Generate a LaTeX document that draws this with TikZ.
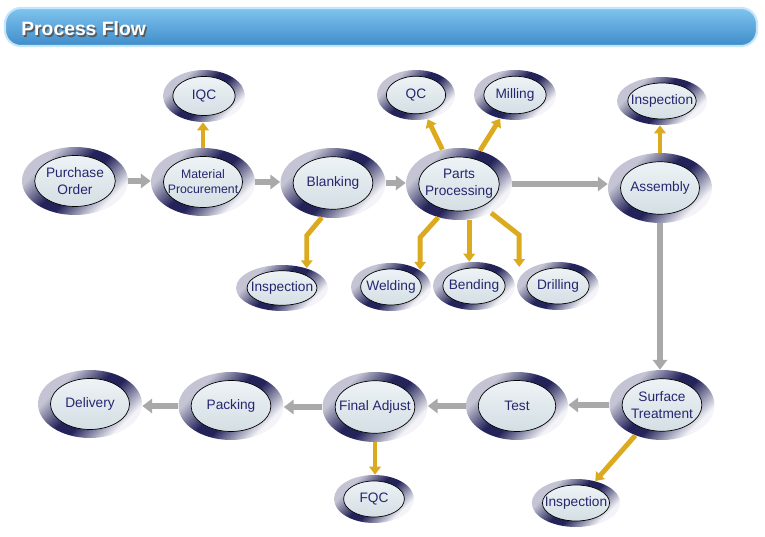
\documentclass[tikz,border=0pt]{standalone}
\usepackage{fontspec}
\setmainfont{Liberation Sans}
\usetikzlibrary{shapes.geometric,arrows.meta,calc}

\definecolor{ink}{HTML}{262670}
\definecolor{navy}{HTML}{23235A}
\definecolor{silver}{HTML}{F4F4F8}
\definecolor{haze}{HTML}{C4C4D4}
\definecolor{pale}{HTML}{F2F6F8}
\definecolor{mist}{HTML}{CFDBE1}
\definecolor{flowgray}{HTML}{A9A9A9}
\definecolor{gold}{HTML}{DCAA1E}
\definecolor{barhi}{HTML}{7FC4EE}
\definecolor{barlo}{HTML}{3F8CCA}
\definecolor{barrim}{HTML}{C4E6FA}

\pgfdeclarehorizontalshading{ring}{100bp}{color(0bp)=(haze); color(30bp)=(haze);
  color(46bp)=(navy); color(54bp)=(navy); color(72bp)=(silver); color(100bp)=(silver)}

\begin{document}
\begin{tikzpicture}[x=0.02cm, y=-0.02cm,
  dims/.style 2 args={minimum width=#1*0.02cm, minimum height=#2*0.02cm},
  stage/.style={shape=ellipse, inner sep=0pt, align=center, text=ink,
    font=\fontsize{7.8}{9.6}\selectfont,
    shade, shading=ring, shading angle=-45,
    path picture={\draw[black, line width=0.4pt, top color=pale, bottom color=mist]
      let \p1=(path picture bounding box.north east),
          \p2=(path picture bounding box.center)
      in (\p2) ellipse ({0.76*(\x1-\x2)} and {0.75*(\y1-\y2)});}},
  flow/.style={draw=flowgray, line width=3.4pt,
    -{Triangle[length=5.5pt, width=8pt]}},
  tie/.style={draw=gold, line width=2.8pt,
    -{Triangle[length=4.5pt, width=6.5pt]}}]

  \useasboundingbox (0,0) rectangle (765,537);

  \node[dims={752}{38}, rounded corners=9pt, top color=barhi, bottom color=barlo,
    draw=barrim, line width=1.2pt] (bar) at (381,27) {};
  \node[anchor=west, inner sep=0pt, text=black!65,
    font=\bfseries\fontsize{11}{13}\selectfont] (titleshade)
    at ([xshift=0.37cm, yshift=-0.07cm]bar.west) {Process Flow};
  \node[anchor=west, inner sep=0pt, text=white,
    font=\bfseries\fontsize{11}{13}\selectfont] (title)
    at ([xshift=0.34cm, yshift=-0.04cm]bar.west) {Process Flow};

  \node[stage, dims={106}{68}] (po) at (75,181) {Purchase\\Order};
  \node[stage, dims={104}{68}, font=\fontsize{7}{8.6}\selectfont] (mp) at (203,182) {Material\\Procurement};
  \node[stage, dims={105}{70}] (bl) at (333,183) {Blanking};
  \node[stage, dims={106}{72}] (pp) at (459,184) {Parts\\Processing};
  \node[stage, dims={104}{70}] (as) at (660,188) {Assembly};

  \node[stage, dims={82}{52}] (iqc) at (204,96) {IQC};
  \node[stage, dims={78}{50}] (qc) at (416,95) {QC};
  \node[stage, dims={82}{50}] (mil) at (515,95) {Milling};
  \node[stage, dims={90}{48}] (insa) at (662,101) {Inspection};

  \node[stage, dims={92}{46}] (insb) at (282,288) {Inspection};
  \node[stage, dims={80}{48}] (wel) at (391,287) {Welding};
  \node[stage, dims={82}{48}] (ben) at (474,286) {Bending};
  \node[stage, dims={82}{48}] (dri) at (558,286) {Drilling};

  \node[stage, dims={105}{70}] (st) at (662,405) {Surface\\Treatment};
  \node[stage, dims={102}{68}] (tst) at (517,406) {Test};
  \node[stage, dims={105}{70}] (fa) at (375,407) {Final Adjust};
  \node[stage, dims={105}{68}] (pk) at (231,406) {Packing};
  \node[stage, dims={104}{68}] (dl) at (90,404) {Delivery};

  \node[stage, dims={80}{48}] (fqc) at (374,499) {FQC};
  \node[stage, dims={88}{48}] (insc) at (576,503) {Inspection};

  \draw[flow] (po.east) -- (po.east -| mp.west);
  \draw[flow] (mp.east) -- (mp.east -| bl.west);
  \draw[flow] (bl.east) -- (bl.east -| pp.west);
  \draw[flow] (pp.east) -- (pp.east -| as.west);
  \draw[flow] (as.south) -- (as.south |- st.north);
  \draw[flow] (st.west) -- (st.west -| tst.east);
  \draw[flow] (tst.west) -- (tst.west -| fa.east);
  \draw[flow] (fa.west) -- (fa.west -| pk.east);
  \draw[flow] (pk.west) -- (pk.west -| dl.east);

  \draw[tie] (mp.north) -- (mp.north |- iqc.south);
  \draw[tie] (pp) -- (qc);
  \draw[tie] (pp) -- (mil);
  \draw[tie] (as.north) -- (as.north |- insa.south);
  \draw[tie] (bl.-108) -- ++(-15,18) coordinate (bk) -- ([yshift=-2pt]bk |- insb.north);
  \draw[tie] (pp.-122) -- ++(-18,20) coordinate (wk) -- ([yshift=-4pt]wk |- wel.north);
  \draw[tie] (pp.-74) -- (pp.-74 |- ben.north);
  \draw[tie] (pp.-42) -- ++(28,22) coordinate (dk) -- ([yshift=-3pt]dk |- dri.north);
  \draw[tie] (fa.south) -- (fa.south |- fqc.north);
  \draw[tie] (st) -- (insc);
\end{tikzpicture}
\end{document}
